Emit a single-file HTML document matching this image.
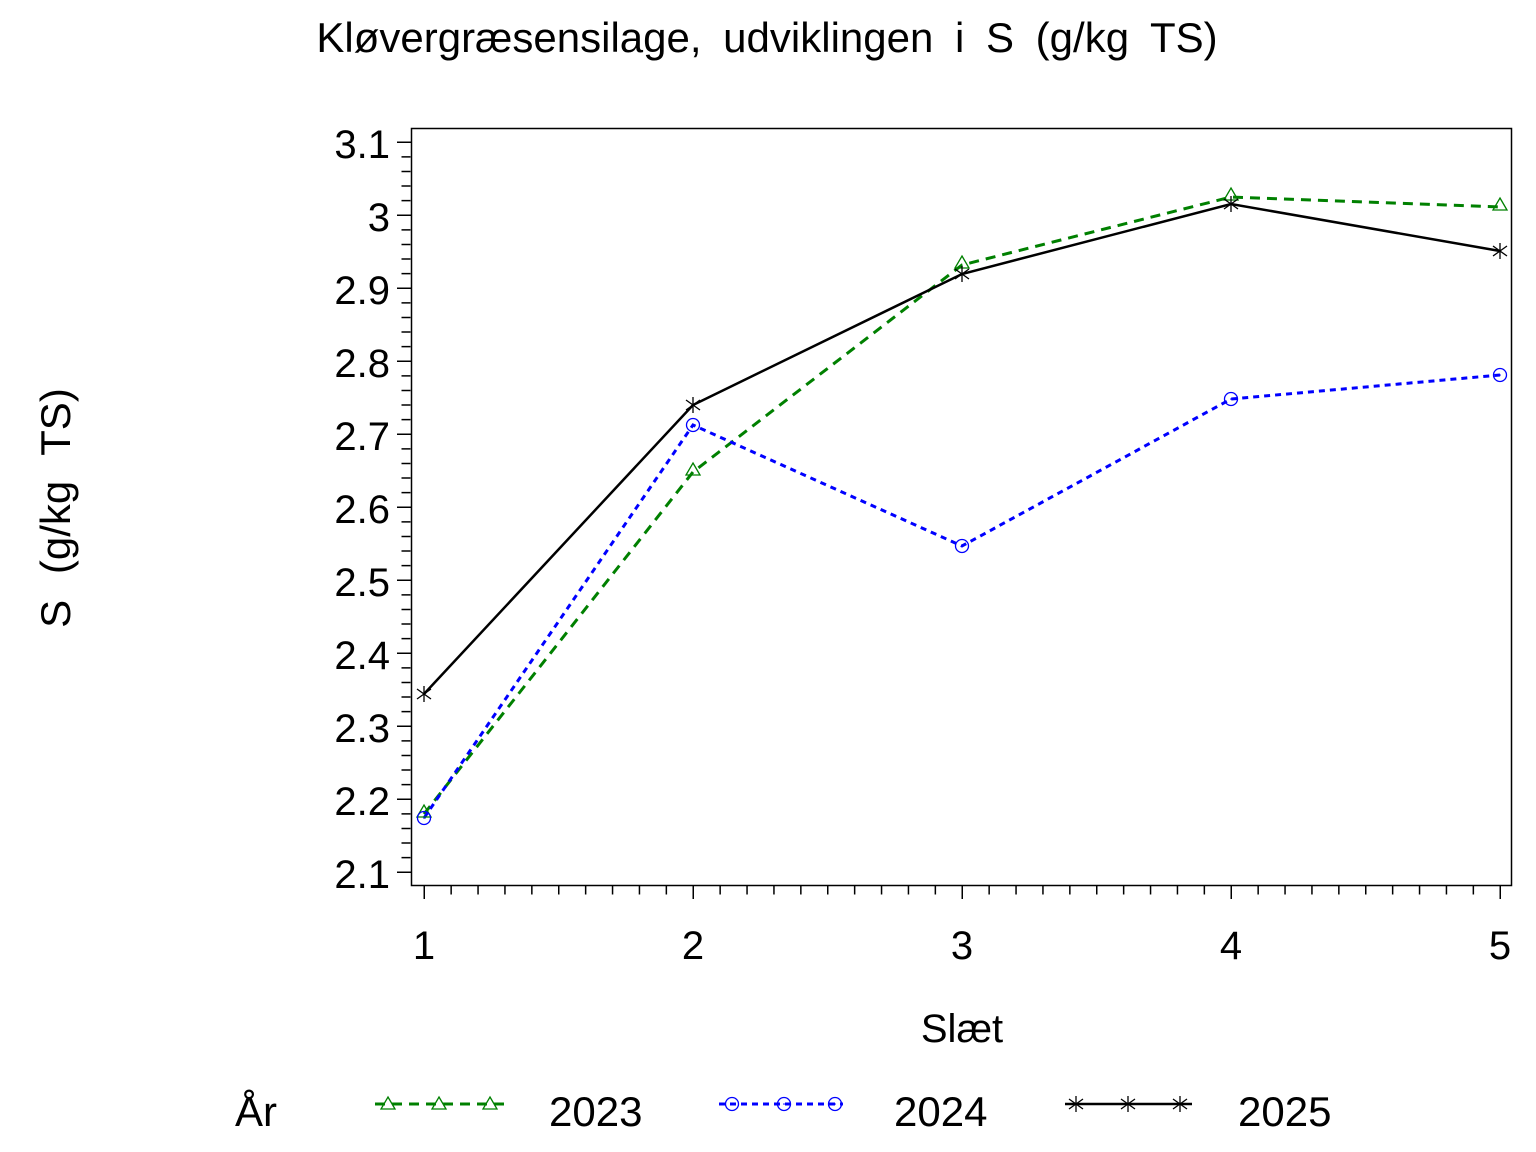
<!DOCTYPE html>
<html><head><meta charset="utf-8"><style>
html,body{margin:0;padding:0;background:#fff;}
svg{display:block;font-family:"Liberation Sans",Arial,sans-serif;}
</style></head><body>
<svg width="1536" height="1152" viewBox="0 0 1536 1152" xmlns="http://www.w3.org/2000/svg">
<defs>
<g id="tri"><path d="M0,-9 L7,3 L-7,3 Z" fill="none" stroke="#008000" stroke-width="1.3"/></g>
<g id="cir"><circle r="6.5" fill="none" stroke="#0000ff" stroke-width="1.3"/><circle r="0.8" fill="#0000ff"/></g>
<g id="star" stroke="#000" stroke-width="1.3"><path d="M0,-8V8M-7,-5L7,5M-7,5L7,-5"/></g>
</defs>
<text x="767" y="52" font-size="42" text-anchor="middle" word-spacing="10">Kløvergræsensilage, udviklingen i S (g/kg TS)</text>
<rect x="411.5" y="128.5" width="1100" height="757" fill="none" stroke="#000" stroke-width="1.5"/>
<line x1="406" y1="141.5" x2="406" y2="876" stroke="#000" stroke-width="9" stroke-dasharray="1.5 13.1"/>
<line x1="404" y1="141.5" x2="404" y2="876" stroke="#000" stroke-width="14" stroke-dasharray="1.5 71.5"/>
<line x1="423.5" y1="890" x2="1502" y2="890" stroke="#000" stroke-width="9" stroke-dasharray="1.5 25.4"/>
<line x1="423.5" y1="892" x2="1502" y2="892" stroke="#000" stroke-width="14" stroke-dasharray="1.5 267.5"/>
<g font-size="40" text-anchor="end">
<text x="390" y="158">3.1</text><text x="390" y="231">3</text><text x="390" y="304">2.9</text>
<text x="390" y="377">2.8</text><text x="390" y="450">2.7</text><text x="390" y="523">2.6</text>
<text x="390" y="596">2.5</text><text x="390" y="669">2.4</text><text x="390" y="742">2.3</text>
<text x="390" y="815">2.2</text><text x="390" y="888">2.1</text>
</g>
<g font-size="40" text-anchor="middle">
<text x="424" y="959">1</text><text x="693" y="959">2</text><text x="962" y="959">3</text>
<text x="1231" y="959">4</text><text x="1500" y="959">5</text>
<text x="962" y="1042">Slæt</text>
</g>
<text transform="translate(70,508) rotate(-90)" font-size="42" text-anchor="middle" word-spacing="14">S (g/kg TS)</text>
<polyline points="424,814 693,472 962,265 1231,197 1500,207" fill="none" stroke="#008000" stroke-width="3" stroke-dasharray="10 7"/>
<polyline points="424,818 693,425 962,546 1231,399 1500,375" fill="none" stroke="#0000ff" stroke-width="3" stroke-dasharray="6 5"/>
<polyline points="424,694 693,405 962,274 1231,204 1500,251" fill="none" stroke="#000" stroke-width="2.5"/>
<use href="#tri" x="424" y="814"/><use href="#tri" x="693" y="472"/><use href="#tri" x="962" y="265"/><use href="#tri" x="1231" y="197"/><use href="#tri" x="1500" y="207"/>
<use href="#cir" x="424" y="818"/><use href="#cir" x="693" y="425"/><use href="#cir" x="962" y="546"/><use href="#cir" x="1231" y="399"/><use href="#cir" x="1500" y="375"/>
<use href="#star" x="424" y="694"/><use href="#star" x="693" y="405"/><use href="#star" x="962" y="274"/><use href="#star" x="1231" y="204"/><use href="#star" x="1500" y="251"/>
<text x="235" y="1126" font-size="42">År</text>
<line x1="375" y1="1104" x2="504" y2="1104" stroke="#008000" stroke-width="3" stroke-dasharray="10 7"/>
<use href="#tri" x="388" y="1106"/><use href="#tri" x="439" y="1106"/><use href="#tri" x="490" y="1106"/>
<text x="549" y="1126" font-size="42">2023</text>
<line x1="719" y1="1104" x2="843" y2="1104" stroke="#0000ff" stroke-width="3" stroke-dasharray="6 5"/>
<use href="#cir" x="732" y="1104"/><use href="#cir" x="784" y="1104"/><use href="#cir" x="835" y="1104"/>
<text x="894" y="1126" font-size="42">2024</text>
<line x1="1065" y1="1104" x2="1192" y2="1104" stroke="#000" stroke-width="2.5"/>
<use href="#star" x="1076" y="1104"/><use href="#star" x="1128" y="1104"/><use href="#star" x="1180" y="1104"/>
<text x="1238" y="1126" font-size="42">2025</text>
</svg>
</body></html>
